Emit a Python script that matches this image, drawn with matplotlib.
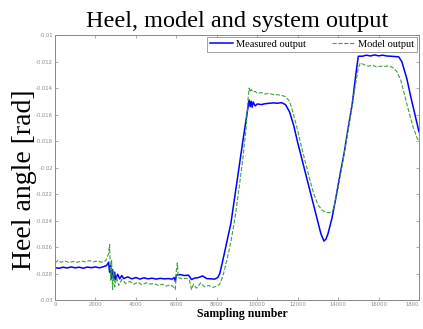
import matplotlib
matplotlib.use("Agg")
from matplotlib import pyplot as plt

# measured heel angle (blue, solid)
meas_x = [0, 200, 400, 600, 800, 1000, 1200, 1400, 1600, 1800, 2000, 2200, 2400, 2550,
          2650, 2700, 2750, 2800, 2850, 2900, 2950, 3000, 3100, 3200, 3300, 3400, 3600,
          3800, 4000, 4200, 4400, 4600, 4800, 5000, 5200, 5400, 5600, 5800, 5900, 5950,
          6000, 6200, 6400, 6600, 6750, 6900, 7100, 7300, 7500, 7700, 7900, 8050, 8150,
          8300, 8500, 8700, 8900, 9100, 9300, 9450, 9550, 9600, 9650, 9700, 9750, 9800,
          9900, 10000, 10200, 10400, 10600, 10800, 11000, 11200, 11400, 11600, 11800,
          12000, 12200, 12400, 12600, 12800, 13000, 13150, 13300, 13400, 13500, 13700,
          13900, 14100, 14300, 14500, 14700, 14900, 15000, 15200, 15400, 15600, 15800,
          16000, 16200, 16400, 16600, 16800, 17000, 17150, 17400, 17600, 17800, 18000]
meas_y = [-0.02755, -0.02760, -0.02752, -0.02758, -0.02750, -0.02757, -0.02752, -0.02760,
          -0.02751, -0.02756, -0.02750, -0.02757, -0.02748, -0.02740,
          -0.02715, -0.02790, -0.02740, -0.02840, -0.02770, -0.02850, -0.02790, -0.02845,
          -0.02805, -0.02840, -0.02815, -0.02838, -0.02825,
          -0.02840, -0.02830, -0.02842, -0.02832, -0.02840, -0.02835, -0.02842, -0.02836,
          -0.02840, -0.02838, -0.02842, -0.02830, -0.02860,
          -0.02812, -0.02808, -0.02815, -0.02812, -0.02845, -0.02835, -0.02830, -0.02818,
          -0.02838, -0.02840, -0.02842, -0.02830, -0.02800,
          -0.02700, -0.02560, -0.02420, -0.02210, -0.02000, -0.01790, -0.01640, -0.01540,
          -0.01490, -0.01540, -0.01500, -0.01545, -0.01505,
          -0.01535, -0.01520, -0.01525, -0.01518, -0.01515, -0.01512, -0.01515, -0.01510,
          -0.01525, -0.01580, -0.01680,
          -0.01810, -0.01930, -0.02050, -0.02170, -0.02290, -0.02410, -0.02500, -0.02555,
          -0.02540, -0.02500, -0.02380,
          -0.02220, -0.02050, -0.01890, -0.01700, -0.01520, -0.01270, -0.01160, -0.01160,
          -0.01152, -0.01158, -0.01150,
          -0.01157, -0.01152, -0.01158, -0.01160, -0.01162, -0.01165, -0.01200, -0.01330,
          -0.01470, -0.01600, -0.01730]

# model output (green, dashed)
model_x = [0, 150, 300, 500, 700, 900, 1100, 1300, 1500, 1700, 1900, 2100, 2300, 2500,
           2650, 2700, 2750, 2800, 2850, 2900, 2950, 3050, 3150, 3300, 3500, 3700, 3900,
           4100, 4300, 4500, 4700, 4900, 5100, 5300, 5500, 5700, 5850, 5950, 6000, 6050,
           6100, 6300, 6500, 6650, 6750, 6850, 7000, 7200, 7400, 7600, 7800, 8000, 8150,
           8300, 8500, 8700, 8900, 9100, 9300, 9450, 9550, 9600, 9650, 9700, 9800, 9900,
           10000, 10200, 10400, 10600, 10800, 11000, 11200, 11400, 11600, 11800, 12000,
           12200, 12400, 12600, 12800, 13000, 13200, 13400, 13600, 13700, 13800, 14000,
           14200, 14400, 14600, 14800, 15000, 15100, 15300, 15500, 15700, 15900, 16100,
           16300, 16500, 16700, 16900, 17100, 17300, 17500, 17700, 17900, 18000]
model_y = [-0.02720, -0.02700, -0.02715, -0.02705, -0.02718, -0.02708, -0.02715, -0.02705,
           -0.02712, -0.02702, -0.02712, -0.02705, -0.02715, -0.02705,
           -0.02650, -0.02580, -0.02850, -0.02700, -0.02920, -0.02780, -0.02900, -0.02830,
           -0.02890, -0.02845, -0.02875, -0.02860, -0.02880,
           -0.02865, -0.02885, -0.02870, -0.02880, -0.02875, -0.02890, -0.02880, -0.02895,
           -0.02885, -0.02900, -0.02920, -0.02780, -0.02720,
           -0.02830, -0.02840, -0.02835, -0.02850, -0.02920, -0.02880, -0.02910, -0.02870,
           -0.02900, -0.02890, -0.02905, -0.02895, -0.02880,
           -0.02820, -0.02700, -0.02560, -0.02380, -0.02160, -0.01920, -0.01700, -0.01480,
           -0.01400, -0.01430, -0.01410, -0.01430, -0.01425,
           -0.01440, -0.01435, -0.01445, -0.01440, -0.01450, -0.01450, -0.01455, -0.01465,
           -0.01500, -0.01600, -0.01720,
           -0.01850, -0.01970, -0.02090, -0.02200, -0.02280, -0.02320, -0.02340, -0.02340,
           -0.02335, -0.02300, -0.02150,
           -0.01980, -0.01800, -0.01620, -0.01430, -0.01250, -0.01210, -0.01225, -0.01235,
           -0.01228, -0.01240, -0.01235,
           -0.01238, -0.01232, -0.01245, -0.01275, -0.01340, -0.01460, -0.01580, -0.01690,
           -0.01775, -0.01800]

x_ticks = list(range(0, 18001, 2000))
x_tick_labels = ['0', '2000', '4000', '6000', '8000', '10000', '12000', '14000', '16000', '1800']
y_ticks = [-0.03, -0.028, -0.026, -0.024, -0.022, -0.02, -0.018, -0.016, -0.014, -0.012, -0.01]
y_tick_labels = ['-0.03', '-0.028', '-0.026', '-0.024', '-0.022', '-0.02', '-0.018',
                 '-0.016', '-0.014', '-0.012', '-0.01']

fig = plt.figure(figsize=(4.23, 3.29), dpi=100)
ax = fig.add_axes([0.130, 0.088, 0.8605, 0.8055])

ax.plot(meas_x, meas_y, color='#0000ff', linewidth=1.1, label='Measured output')
ax.plot(model_x, model_y, color='#3f9f3f', linewidth=0.8, linestyle='--', label='Model output')

ax.set_xlim(0, 18000)
ax.set_ylim(-0.03, -0.01)
ax.set_xticks(x_ticks)
ax.set_xticklabels(x_tick_labels)
ax.set_yticks(y_ticks)
ax.set_yticklabels(y_tick_labels)
ax.tick_params(direction='in', length=2.5, width=0.5, colors='#888888', labelsize=3.8,
               top=True, right=True, pad=1.5)
# last x label sits at the figure edge, keep it inside
ax.get_xticklabels()[-1].set_horizontalalignment('right')
for sp in ax.spines.values():
    sp.set_color('#888888')
    sp.set_linewidth(0.7)

leg = ax.legend(loc='upper right', ncol=2, prop={'family': 'Liberation Serif', 'size': 7.5},
                frameon=True, fancybox=False, borderaxespad=0.15, handlelength=2.2,
                columnspacing=2.5, handletextpad=0.3, borderpad=0.3)
leg.get_frame().set_edgecolor('#777777')
leg.get_frame().set_linewidth(0.6)

fig.text(0.56, 0.935, 'Heel, model and system output', family='Liberation Serif',
         fontsize=17.5, ha='center', va='center')
fig.text(0.057, 0.455, 'Heel angle [rad]', family='Liberation Serif', fontsize=20,
         rotation=90, ha='center', va='center')
fig.text(0.572, 0.045, 'Sampling number', family='Liberation Serif', fontweight='bold',
         fontsize=8.5, ha='center', va='center')

plt.savefig('out.png', dpi=100)
